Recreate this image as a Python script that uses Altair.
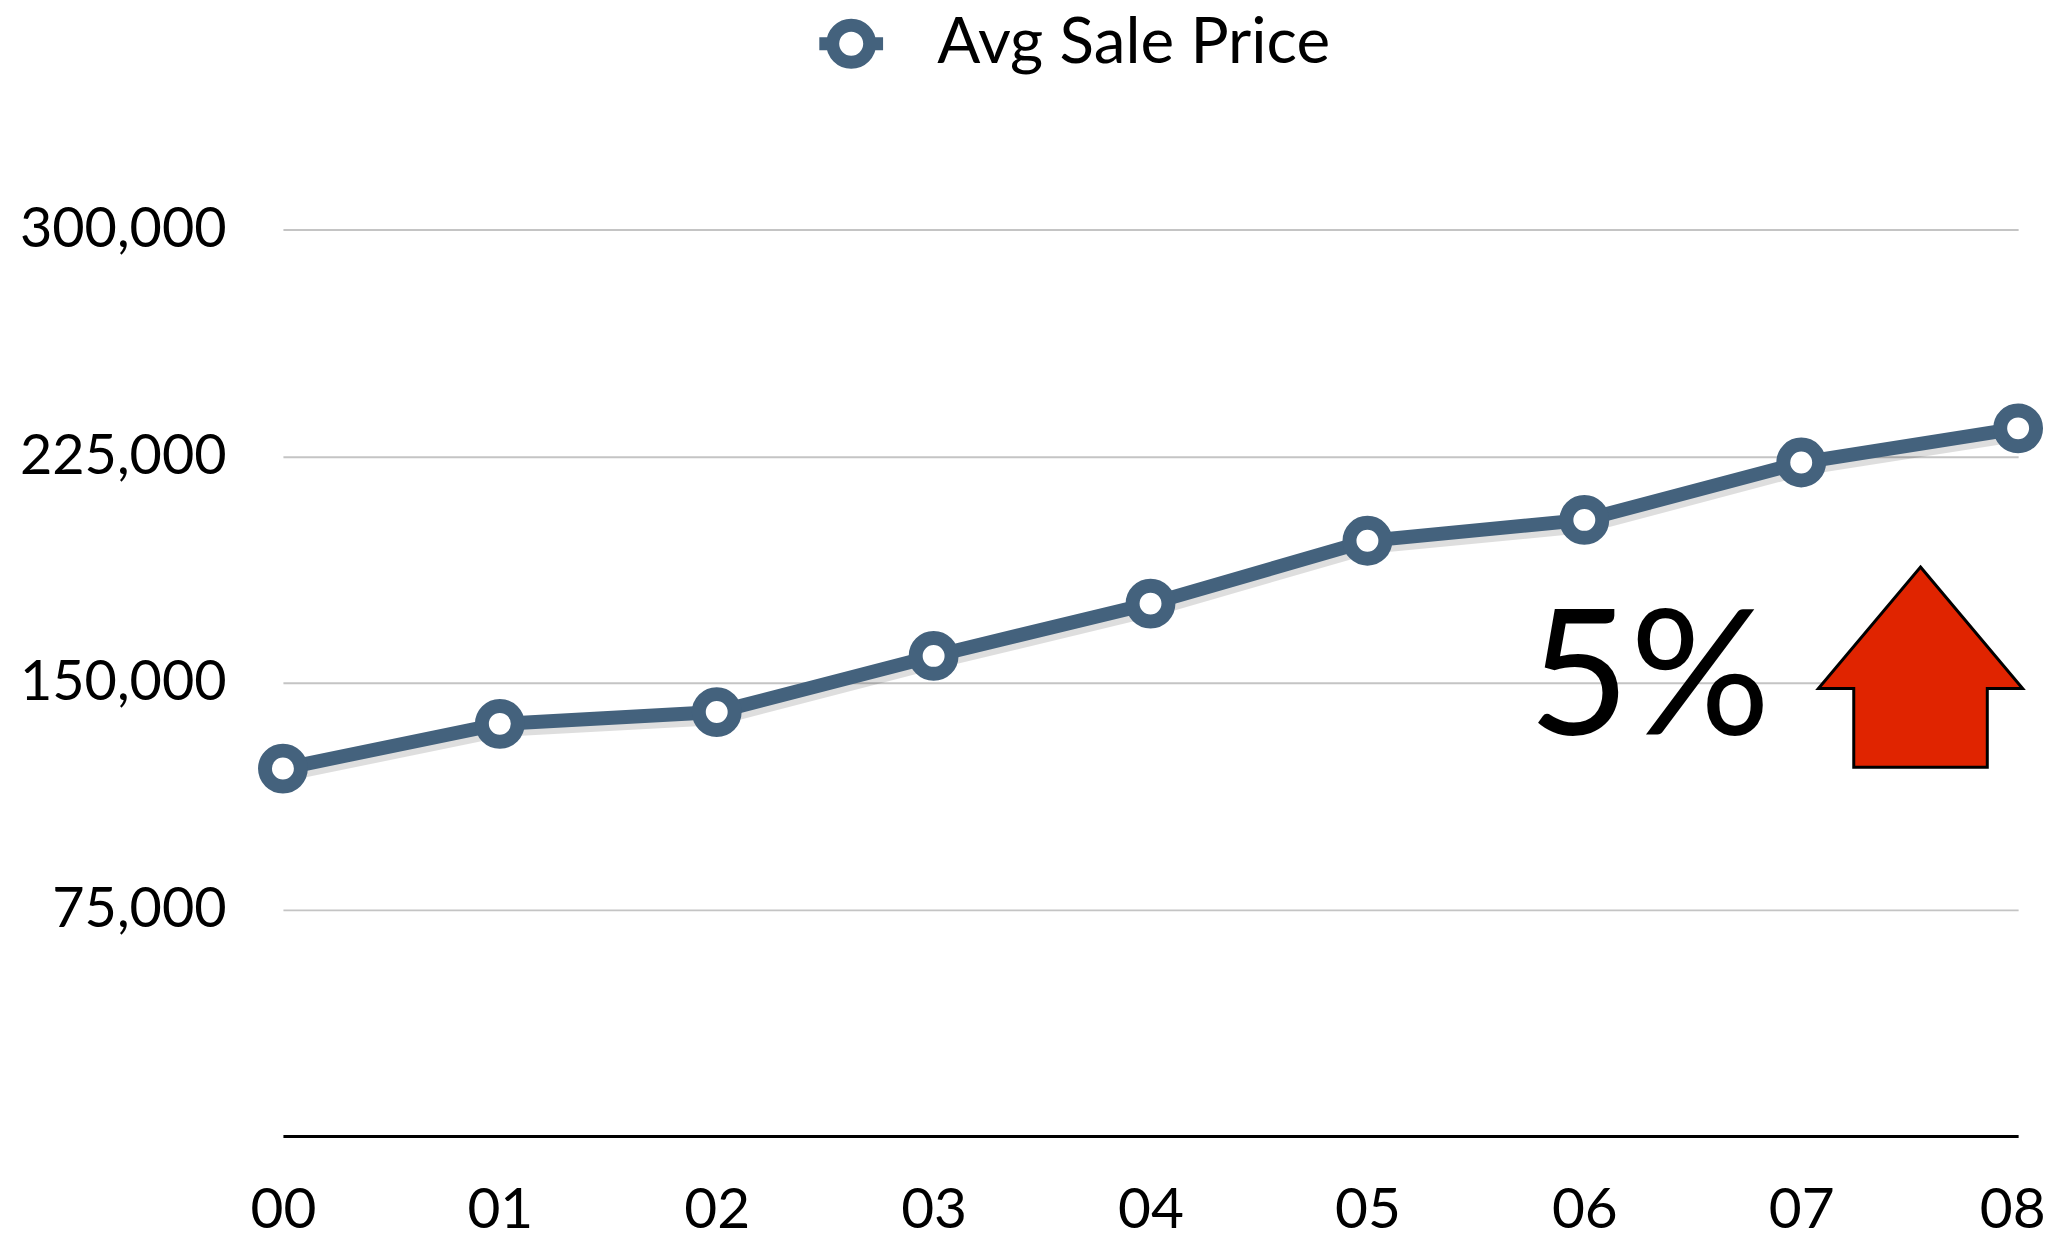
import altair as alt
import pandas as pd

# ---- data ----
years = ["00", "01", "02", "03", "04", "05", "06", "07", "08"]
prices = [121600, 136400, 140300, 158900, 176200, 197000, 203900, 222900, 234200]
series_name = "Avg Sale Price"
y_ticks = [75000, 150000, 225000, 300000]

# annotation (data coordinates)
pct_text = ["5%"]
pct_x = [6.30]
pct_y = [132800]
arrow_x = [7.55]
arrow_y = [155200]

df = pd.DataFrame({
    "idx": list(range(len(years))),
    "year": years,
    "price": prices,
    "series": [series_name] * len(years),
})
ann_text = pd.DataFrame({"x": pct_x, "y": pct_y, "t": pct_text})
ann_arrow = pd.DataFrame({"x": arrow_x, "y": arrow_y})

LINE = "#44627d"
FONT = "Lato"
last = len(years) - 1

x_enc = alt.X(
    "idx:Q",
    scale=alt.Scale(domain=[0, last], nice=False, zero=False),
    axis=alt.Axis(
        values=list(range(len(years))),
        labelExpr="['" + "','".join(years) + "'][datum.value]",
        grid=False, ticks=False, domain=True, domainColor="black", domainWidth=3,
        labelFont=FONT, labelFontSize=57, labelColor="black", labelPadding=47,
        labelBaseline="top", title=None, labelFlush=False, labelOverlap=False,
        labelOffset={"condition": {"test": f"datum.value === {last}", "value": -6}, "value": 0},
    ),
)
y_enc = alt.Y(
    "price:Q",
    scale=alt.Scale(domain=[0, 300000], nice=False),
    axis=alt.Axis(
        values=y_ticks, format=",d", grid=True, gridColor="#c4c4c4", gridWidth=2,
        ticks=False, domain=False, labelFont=FONT, labelFontSize=56,
        labelColor="black", labelPadding=57, title=None, labelLimit=500,
    ),
)

base = alt.Chart(df)

shadow = base.mark_line(color="#000000", opacity=0.13, strokeWidth=16, xOffset=2, yOffset=5).encode(x=x_enc, y=y_enc)
line = base.mark_line(color=LINE, strokeWidth=14).encode(x=x_enc, y=y_enc)
points = base.mark_point(filled=False, fill="white", fillOpacity=1, strokeWidth=14, size=1296, opacity=1).encode(
    x=x_enc, y=y_enc,
    stroke=alt.Stroke(
        "series:N",
        scale=alt.Scale(domain=[series_name], range=[LINE]),
        legend=alt.Legend(
            title=None, orient="none", legendX=532, legendY=-225,
            symbolType="M-1,0L-0.58,0M0.58,0A0.58,0.58 0 1,1 -0.58,0A0.58,0.58 0 1,1 0.58,0M0.58,0L1,0",
            symbolSize=4096, symbolStrokeWidth=13, symbolStrokeColor=LINE,
            labelFont=FONT, labelFontSize=64, labelColor="black", labelOffset=48,
            padding=0, labelLimit=800,
        ),
    ),
)

arrow_path = "M0,-1L1.02,0.214L0.667,0.214L0.667,1L-0.667,1L-0.667,0.214L-1.02,0.214Z"
arrow = alt.Chart(ann_arrow).mark_point(
    shape=arrow_path, filled=True, fill="#e02400", fillOpacity=1, stroke="black",
    strokeWidth=3, size=40401, opacity=1,
).encode(x="x:Q", y="y:Q")

pct = alt.Chart(ann_text).mark_text(
    font=FONT, fontSize=176, color="black", align="center", baseline="alphabetic",
).encode(x="x:Q", y="y:Q", text="t:N")

chart = alt.layer(shadow, line, points, pct, arrow).properties(
    width=1742, height=910,
    autosize=alt.AutoSizeParams(type="none"),
    padding={"left": 276, "top": 220, "right": 32, "bottom": 102},
).configure_view(stroke=None)

chart.save("out.html", embed_options={"renderer": "svg", "actions": False})
